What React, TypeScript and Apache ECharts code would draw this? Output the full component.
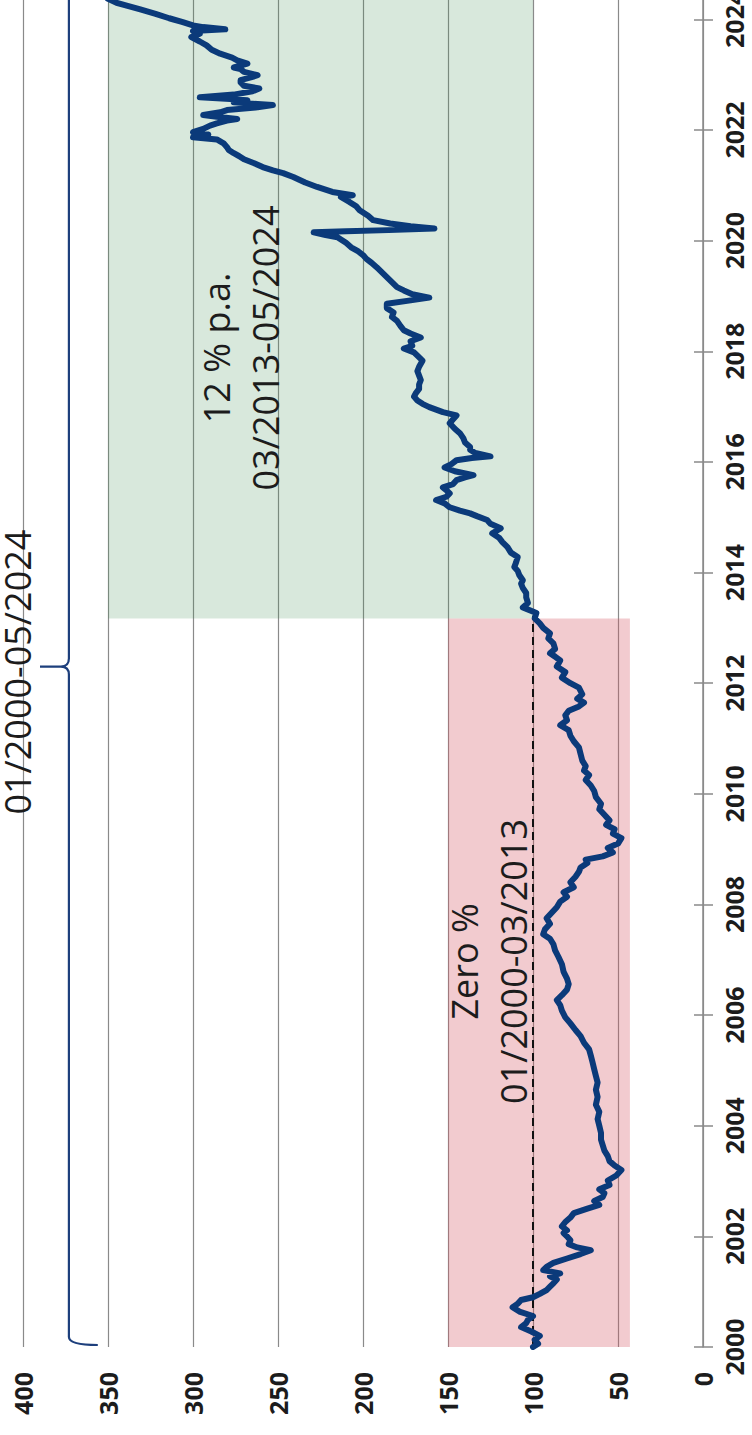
import React, { useEffect, useRef } from "react";
import * as echarts from "echarts";

// [decimal year, index value]
const indexSeries: [number, number][] = [
  [2000.0, 100], [2000.06, 97], [2000.13, 99], [2000.2, 96], [2000.28, 101], [2000.36, 107], [2000.43, 104], [2000.49, 103],
  [2000.56, 100], [2000.64, 108], [2000.72, 112], [2000.78, 109], [2000.85, 107], [2000.9, 100], [2000.96, 96], [2001.03, 92],
  [2001.09, 90], [2001.15, 88], [2001.22, 86], [2001.28, 90], [2001.33, 84], [2001.39, 94], [2001.45, 92], [2001.52, 88],
  [2001.6, 80], [2001.68, 72], [2001.75, 66], [2001.8, 74], [2001.86, 79], [2001.93, 78], [2002.0, 80], [2002.06, 82],
  [2002.11, 80], [2002.18, 83], [2002.26, 81], [2002.34, 78], [2002.42, 76], [2002.5, 68], [2002.57, 61], [2002.64, 64],
  [2002.71, 59], [2002.78, 58], [2002.85, 61], [2002.93, 55], [2003.01, 56], [2003.1, 51], [2003.2, 48], [2003.28, 52],
  [2003.36, 55], [2003.45, 56], [2003.55, 58], [2003.65, 59], [2003.75, 60], [2003.87, 60], [2004.0, 61], [2004.12, 62],
  [2004.25, 61], [2004.38, 63], [2004.52, 62], [2004.65, 63], [2004.78, 62], [2004.9, 63], [2005.02, 64], [2005.15, 65],
  [2005.27, 66], [2005.38, 67], [2005.5, 70], [2005.62, 72], [2005.73, 75], [2005.85, 78], [2005.96, 81], [2006.08, 83],
  [2006.18, 84], [2006.27, 86], [2006.36, 83], [2006.46, 80], [2006.56, 79], [2006.66, 80], [2006.78, 82], [2006.92, 83],
  [2007.05, 85], [2007.17, 87], [2007.28, 88], [2007.38, 90], [2007.46, 94], [2007.55, 93], [2007.65, 90], [2007.75, 92],
  [2007.85, 89], [2007.95, 86], [2008.05, 84], [2008.14, 80], [2008.22, 82], [2008.31, 76], [2008.4, 78], [2008.5, 75],
  [2008.59, 73], [2008.67, 72], [2008.75, 68], [2008.81, 69], [2008.87, 59], [2008.94, 53], [2009.02, 56], [2009.1, 50],
  [2009.2, 48], [2009.28, 53], [2009.36, 52], [2009.44, 57], [2009.52, 55], [2009.62, 58], [2009.72, 61], [2009.82, 60],
  [2009.94, 63], [2010.05, 64], [2010.15, 66], [2010.25, 69], [2010.34, 67], [2010.42, 70], [2010.5, 69], [2010.6, 71],
  [2010.72, 72], [2010.84, 73], [2010.95, 76], [2011.05, 78], [2011.15, 79], [2011.24, 84], [2011.33, 80], [2011.42, 81],
  [2011.5, 79], [2011.58, 73], [2011.65, 70], [2011.72, 74], [2011.8, 71], [2011.92, 73], [2012.0, 78], [2012.1, 83],
  [2012.2, 81], [2012.3, 86], [2012.41, 84], [2012.48, 87], [2012.54, 90], [2012.62, 87], [2012.72, 88], [2012.81, 91],
  [2012.9, 90], [2013.0, 94], [2013.08, 96], [2013.17, 99], [2013.27, 98], [2013.37, 106], [2013.45, 103], [2013.55, 104],
  [2013.63, 104], [2013.72, 106], [2013.8, 107], [2013.86, 106], [2013.95, 108], [2014.03, 109], [2014.1, 111], [2014.18, 110],
  [2014.28, 109], [2014.36, 113], [2014.46, 115], [2014.55, 118], [2014.63, 120], [2014.71, 124], [2014.8, 119], [2014.88, 125],
  [2014.95, 127], [2015.02, 133], [2015.07, 137], [2015.12, 143], [2015.18, 149], [2015.25, 152], [2015.31, 157], [2015.37, 151],
  [2015.43, 149], [2015.49, 151], [2015.54, 153], [2015.6, 147], [2015.67, 145], [2015.72, 140], [2015.76, 135], [2015.83, 146],
  [2015.9, 152], [2015.96, 148], [2016.03, 145], [2016.07, 136], [2016.1, 125], [2016.16, 134], [2016.22, 137], [2016.27, 137],
  [2016.35, 140], [2016.43, 141], [2016.52, 143], [2016.6, 146], [2016.7, 149], [2016.77, 147], [2016.84, 145], [2016.9, 153],
  [2016.99, 161], [2017.05, 165], [2017.11, 168], [2017.18, 170], [2017.24, 169], [2017.32, 167], [2017.4, 167], [2017.48, 166],
  [2017.56, 167], [2017.64, 168], [2017.72, 167], [2017.83, 165], [2017.92, 168], [2017.98, 170], [2018.05, 176], [2018.1, 171],
  [2018.18, 172], [2018.25, 166], [2018.32, 172], [2018.38, 176], [2018.46, 178], [2018.55, 180], [2018.62, 183], [2018.7, 182],
  [2018.78, 186], [2018.86, 186], [2018.92, 172], [2018.97, 161], [2019.03, 171], [2019.1, 176], [2019.16, 180], [2019.25, 183],
  [2019.34, 186], [2019.43, 189], [2019.52, 192], [2019.6, 195], [2019.67, 198], [2019.74, 200], [2019.81, 203], [2019.88, 207],
  [2019.96, 210], [2020.02, 213], [2020.06, 215], [2020.1, 222], [2020.15, 229], [2020.17, 210], [2020.19, 185], [2020.22, 158],
  [2020.26, 172], [2020.31, 184], [2020.37, 194], [2020.45, 197], [2020.55, 202], [2020.62, 204], [2020.7, 208], [2020.79, 213],
  [2020.82, 206], [2020.88, 218], [2020.97, 227], [2021.05, 234], [2021.15, 241], [2021.22, 247], [2021.27, 253], [2021.33, 259],
  [2021.4, 264], [2021.47, 270], [2021.53, 273], [2021.58, 276], [2021.64, 279], [2021.69, 280], [2021.76, 282], [2021.83, 286],
  [2021.87, 300], [2021.92, 291], [2021.96, 300], [2022.02, 294], [2022.08, 290], [2022.12, 286], [2022.17, 280], [2022.2, 274],
  [2022.24, 286], [2022.27, 294], [2022.32, 284], [2022.36, 280], [2022.41, 262], [2022.45, 253], [2022.5, 276], [2022.54, 268],
  [2022.59, 296], [2022.64, 276], [2022.7, 265], [2022.75, 261], [2022.8, 270], [2022.86, 272], [2022.9, 272], [2022.95, 266],
  [2022.99, 262], [2023.05, 270], [2023.1, 272], [2023.13, 276], [2023.2, 268], [2023.26, 274], [2023.31, 277], [2023.38, 284],
  [2023.45, 289], [2023.53, 292], [2023.6, 296], [2023.68, 301], [2023.74, 296], [2023.79, 300], [2023.82, 281], [2023.86, 294],
  [2023.89, 300], [2023.95, 306], [2024.02, 314], [2024.1, 322], [2024.18, 331], [2024.25, 339], [2024.3, 345], [2024.37, 350],
];

const valueTicks = [0, 50, 100, 150, 200, 250, 300, 350, 400];
const yearTicks = [2000, 2002, 2004, 2006, 2008, 2010, 2012, 2014, 2016, 2018, 2020, 2022, 2024];

// periods: [start year, end year]
const zeroPeriod = [2000.0, 2013.17];
const growthPeriod = [2013.17, 2026];
const fullPeriod = [2000.0, 2024.6];
const zeroBand = [43, 150];
const growthBand = [100, 350];
const baseLevel = 100;

const annotations = [
  { text: "12 % p.a.\n03/2013-05/2024", at: [272, 2018.06], lineHeight: 49 },
  { text: "Zero %\n01/2000-03/2013", at: [126, 2006.97], lineHeight: 49 },
  { text: "01/2000-05/2024", at: [403, 2012.2], lineHeight: 36 },
];

const FONT = "'Open Sans', 'Noto Sans', sans-serif";
const NAVY = "#0b3a7a";
const GRID = "#8a8a8a";

export default function App() {
  const ref = useRef<HTMLDivElement>(null);

  useEffect(() => {
    if (!ref.current) return;
    const chart = echarts.init(ref.current, null, { renderer: "svg" });

    const axisLabelStyle = {
      fontSize: 25,
      fontFamily: FONT,
      fontWeight: 700,
      color: "#1c1c1c",
      rotate: 90,
    };

    const option: any = {
      animation: false,
      grid: { left: 23, right: 49, top: 0, bottom: 88, containLabel: false, outerBoundsMode: "none" },
      xAxis: {
        type: "value",
        inverse: true,
        min: 0,
        max: 400,
        interval: 50,
        position: "bottom",
        axisLine: { show: false },
        axisTick: { show: false },
        splitLine: { show: true, lineStyle: { color: GRID, width: 1.2 } },
        axisLabel: {
          ...axisLabelStyle,
          margin: 25,
          formatter: (v: number) => (valueTicks.includes(v) ? String(v) : ""),
        },
      },
      yAxis: [
        {
          type: "value",
          position: "right",
          min: 2000,
          max: 2024.35,
          interval: 2,
          axisLine: { show: true, lineStyle: { color: GRID, width: 1.5 } },
          axisTick: { show: true, length: 10, customValues: yearTicks, lineStyle: { color: GRID, width: 1.5 } },
          splitLine: { show: false },
          axisLabel: {
            ...axisLabelStyle,
            margin: 18,
            customValues: yearTicks,
            formatter: (v: number) => (yearTicks.includes(v) ? String(v) : ""),
          },
        },
        {
          type: "value",
          position: "right",
          min: 2000,
          max: 2024.35,
          interval: 2,
          axisLine: { show: false },
          axisTick: { show: true, inside: true, length: 9, customValues: yearTicks, lineStyle: { color: GRID, width: 1.5 } },
          splitLine: { show: false },
          axisLabel: { show: false },
        },
      ],
      series: [
        {
          type: "line",
          name: "Index",
          data: indexSeries.map(([t, v]) => [v, t]),
          showSymbol: false,
          symbol: "none",
          z: 5,
          lineStyle: { color: NAVY, width: 6, join: "round", cap: "round" },
          markArea: {
            silent: true,
            data: [
              [
                { xAxis: growthBand[1], yAxis: growthPeriod[0], itemStyle: { color: "rgba(60,140,80,0.2)" } },
                { xAxis: growthBand[0], yAxis: growthPeriod[1] },
              ],
              [
                { xAxis: zeroBand[1], yAxis: zeroPeriod[0], itemStyle: { color: "rgba(212,82,95,0.3)" } },
                { xAxis: zeroBand[0], yAxis: zeroPeriod[1] },
              ],
            ],
          },
          markLine: {
            silent: true,
            symbol: ["none", "none"],
            label: { show: false },
            lineStyle: { color: "#111", width: 2, type: [8, 5] },
            data: [[{ coord: [baseLevel, zeroPeriod[0]] }, { coord: [baseLevel, zeroPeriod[1] + 0.05] }]],
          },
        },
        {
          type: "custom",
          name: "bracket",
          coordinateSystem: "cartesian2d",
          silent: true,
          clip: false,
          z: 6,
          encode: { x: 0, y: [1, 2] },
          data: [[373, fullPeriod[0], fullPeriod[1]]],
          renderItem: (params: any, api: any) => {
            const xv = api.value(0);
            const y0 = api.value(1);
            const y1 = api.value(2);
            const pb = api.coord([xv, y0]);
            const pt = api.coord([xv, y1]);
            const pm = api.coord([xv, (y0 + y1) / 2]);
            const tipX = api.coord([390, y0])[0];
            const endX = api.coord([356, y0])[0];
            const X = pb[0];
            const yb = pb[1] - 2;
            const yt = pt[1];
            const ym = pm[1];
            const r = 8;
            const d =
              `M ${endX} ${yb} Q ${X} ${yb} ${X} ${yb - r} L ${X} ${ym + r} Q ${X} ${ym} ${X - r} ${ym} L ${tipX} ${ym} ` +
              `M ${X - r} ${ym} Q ${X} ${ym} ${X} ${ym - r} L ${X} ${yt + r} Q ${X} ${yt} ${endX} ${yt}`;
            return {
              type: "path",
              shape: { pathData: d },
              style: { stroke: "#1d3f7c", lineWidth: 2.2, fill: "none" },
            };
          },
        },
      ],
    };

    chart.setOption(option);

    const graphic = annotations.map((a) => {
      const p = chart.convertToPixel({ gridIndex: 0 } as any, a.at) as number[];
      return {
        type: "text",
        x: p[0],
        y: p[1],
        rotation: Math.PI / 2,
        z: 20,
        silent: true,
        style: {
          text: a.text,
          fontSize: 36,
          fontFamily: FONT,
          fontWeight: 400,
          fill: "#1c1c1c",
          lineHeight: a.lineHeight,
          align: "center",
          verticalAlign: "middle",
          textAlign: "center",
          textVerticalAlign: "middle",
        },
      };
    });
    chart.setOption({ graphic });

    return () => chart.dispose();
  }, []);

  return (
    <div
      ref={ref}
      style={{ position: "absolute", left: 0, top: 0, width: 752, height: 1435, background: "#fff" }}
    />
  );
}
